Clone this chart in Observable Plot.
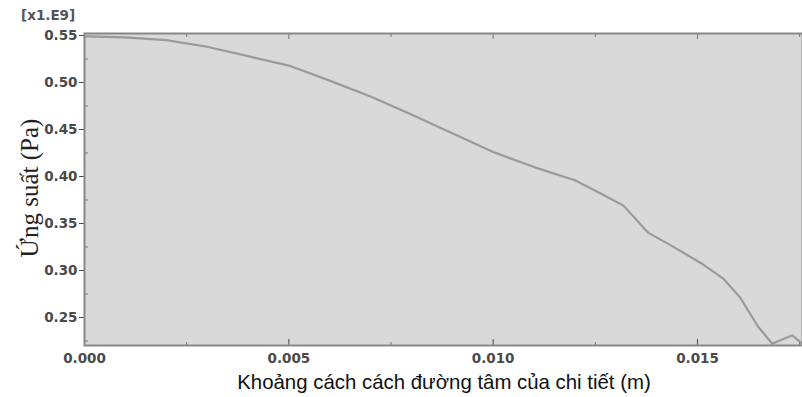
<!DOCTYPE html>
<html><head><meta charset="utf-8">
<script src="https://cdn.jsdelivr.net/npm/d3@7"></script>
<script src="https://cdn.jsdelivr.net/npm/@observablehq/plot@0.6"></script>
<style>
body{margin:0;background:#fff;}
#wrap{position:relative;width:802px;height:397px;}
#exp{position:absolute;left:21px;top:7px;font:bold 13.5px "DejaVu Sans";color:#555;}
#ylab{position:absolute;left:30px;top:188px;transform:translate(-50%,-50%) rotate(-90deg);font:25px "Liberation Serif";color:#222;white-space:nowrap;}
#xlab{position:absolute;left:444px;top:382px;transform:translate(-50%,-50%);font:20.4px "Liberation Sans";color:#111;white-space:nowrap;}
</style></head>
<body><div id="wrap"><div id="chart"></div>
<div id="exp">[x1.E9]</div>
<div id="ylab">Ứng suất (Pa)</div>
<div id="xlab">Khoảng cách cách đường tâm của chi tiết (m)</div>
</div>
<script>
const xs = [0, 0.001, 0.002, 0.003, 0.004, 0.005, 0.006, 0.007, 0.008, 0.009, 0.010, 0.011, 0.012, 0.01263, 0.01319, 0.0138, 0.01434, 0.01508, 0.01564, 0.01605, 0.01647, 0.01683, 0.01732, 0.01757];
const stress = [0.549, 0.548, 0.545, 0.538, 0.528, 0.518, 0.502, 0.485, 0.466, 0.446, 0.426, 0.410, 0.396, 0.382, 0.369, 0.340, 0.327, 0.308, 0.291, 0.271, 0.241, 0.222, 0.231, 0.222];
const xTicks = [0, 0.005, 0.010, 0.015];
const xMinor = [0.0025, 0.0075, 0.0125, 0.0175];
const yTicks = [0.25, 0.30, 0.35, 0.40, 0.45, 0.50, 0.55];
const yMinor = [0.225, 0.275, 0.325, 0.375, 0.425, 0.475, 0.525];
const data = xs.map((x, i) => ({x, y: stress[i]}));
const tc = "#4a4a4a";
const chart = Plot.plot({
  width: 802, height: 397,
  marginLeft: 84, marginRight: 0, marginTop: 33, marginBottom: 52,
  x: {domain: [0, 0.01757]},
  y: {domain: [0.2202, 0.5521]},
  style: {fontFamily: "DejaVu Sans", fontSize: "13.5px", fontWeight: "bold", color: tc},
  marks: [
    Plot.frame({fill: "#d9d9d9", stroke: "none"}),
    Plot.line(data, {x: "x", y: "y", stroke: "#9a9a9a", strokeWidth: 2.2}),
    Plot.axisY({ticks: yTicks, tickFormat: ".2f", tickSize: 5, tickPadding: 2, label: null, stroke: tc}),
    Plot.axisY({ticks: yMinor, tickSize: -4, tickFormat: () => "", label: null, stroke: "#777"}),
    Plot.axisX({ticks: xTicks, tickFormat: ".3f", tickSize: -6, tickPadding: 14, label: null, stroke: tc}),
    Plot.axisX({ticks: xMinor, tickSize: -3, tickFormat: () => "", label: null, stroke: "#777"}),
    Plot.axisX({anchor: "top", ticks: xTicks, tickSize: -5, tickFormat: () => "", label: null, stroke: "#777"}),
    Plot.axisX({anchor: "top", ticks: xMinor, tickSize: -3, tickFormat: () => "", label: null, stroke: "#777"}),
    Plot.frame({stroke: "#888", strokeWidth: 2})
  ]
});
document.getElementById("chart").appendChild(chart);
</script>
</body></html>
